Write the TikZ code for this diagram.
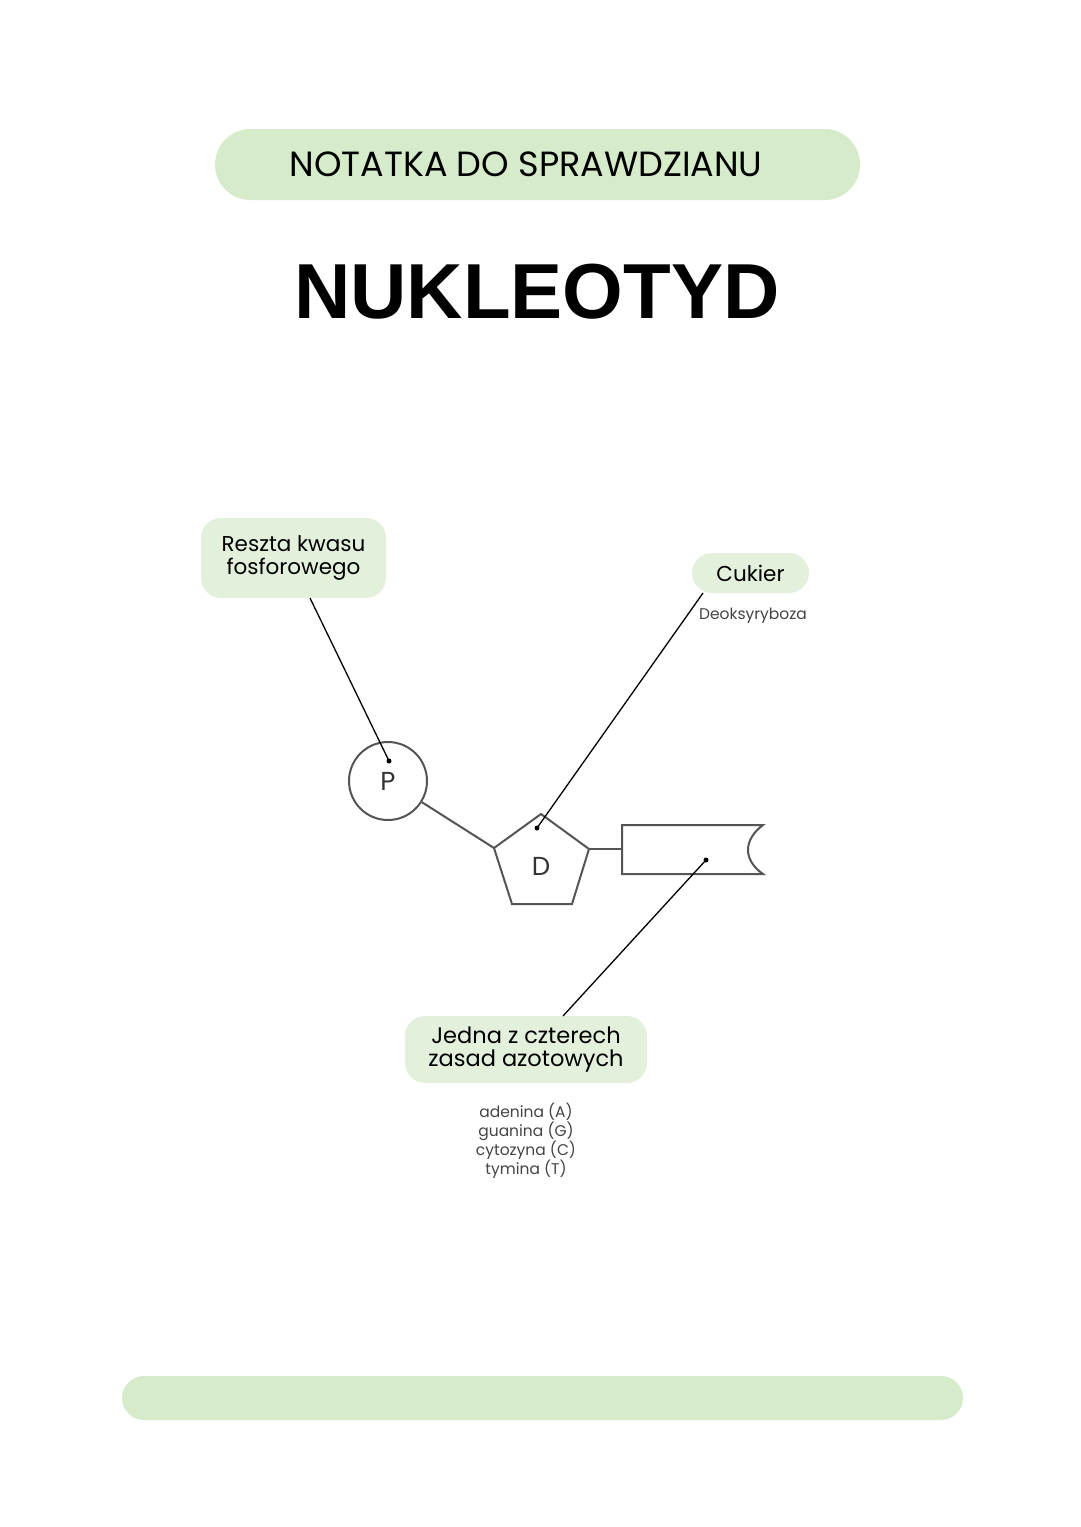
\documentclass[tikz,border=0pt]{standalone}
\usepackage{fontspec}
\setmainfont{Poppins}
\newfontfamily\titlefont{Liberation Sans}
\definecolor{pillgreen}{HTML}{D5EBC9}
\definecolor{boxgreen}{HTML}{E3F0DC}
\definecolor{shapegray}{HTML}{555555}
\definecolor{subgray}{HTML}{444444}
\tikzset{
  pill/.style={fill=pillgreen, draw=none},
  labelbox/.style={fill=boxgreen, draw=none, rounded corners=20pt, align=center, font=\fontsize{21.5}{23}\selectfont, inner sep=0pt},
  shapeline/.style={draw=shapegray, line width=2pt},
  leader/.style={draw=black, line width=1.3pt},
  dotmark/.style={circle, fill=black, inner sep=0pt, minimum size=5pt},
  subtext/.style={text=subgray, align=center, font=\fontsize{15.5}{19}\selectfont},
  glyph/.style={font=\fontsize{26}{28}\selectfont, text=shapegray!60!black},
}
\begin{document}
\begin{tikzpicture}[x=1pt,y=-1pt]
\useasboundingbox (0,0) rectangle (1080,1527);
\fill[white] (0,0) rectangle (1080,1527);
% top pill
\node[pill, rounded corners=35.5pt, minimum width=645pt, minimum height=71pt, inner sep=0pt] (header) at (537.5,164.5) {};
\node[font=\fontsize{35}{40}\selectfont] (headertext) at (526,164) {NOTATKA DO SPRAWDZIANU};
% title
\node[font=\titlefont\bfseries\fontsize{78}{90}\selectfont] (title) at (537,292) {NUKLEOTYD};
% bottom pill
\node[pill, rounded corners=22pt, minimum width=841pt, minimum height=44pt, inner sep=0pt] (footer) at (542.5,1398) {};

% label boxes
\node[labelbox, minimum width=185pt, minimum height=80pt] (reszta) at (293.5,558) {Reszta kwasu\\fosforowego};
\node[labelbox, minimum width=117pt, minimum height=40pt] (cukier) at (750.5,573) {Cukier};
\node[subtext] (deoks) at (753,616) {Deoksyryboza};
\node[labelbox, minimum width=242pt, minimum height=67pt, font=\fontsize{22.5}{23}\selectfont] (jedna) at (526,1049.5) {Jedna z czterech\\zasad azotowych};
\node[subtext] (zasady) at (526,1141) {adenina (A)\\guanina (G)\\cytozyna (C)\\tymina (T)};

% phosphate
\node[circle, shapeline, minimum size=78pt, inner sep=0pt, glyph] (P) at (388,781) {P};
% sugar pentagon
\coordinate (pT) at (541,814);
\coordinate (pL) at (494,848);
\coordinate (pR) at (589,849);
\coordinate (pBL) at (512,904);
\coordinate (pBR) at (572,904);
\draw[shapeline, line join=miter] (pT) -- (pR) -- (pBR) -- (pBL) -- (pL) -- cycle;
\node[glyph] (D) at (541,866) {D};
% base
\coordinate (bTL) at (622,825);
\coordinate (bTR) at (763,825);
\coordinate (bBR) at (763,874);
\coordinate (bBL) at (622,874);
\draw[shapeline] (bTL) -- (bTR) .. controls (743,840) and (743,860) .. (bBR) -- (bBL) -- cycle;
% bonds
\draw[shapeline] (P.-32) -- (pL);
\draw[shapeline] (pR) -- (bTL |- pR);

% dots
\node[dotmark] (dP) at (389,761) {};
\node[dotmark] (dD) at (537,828) {};
\node[dotmark] (dB) at (706,860) {};
% leaders
\coordinate (rEnd) at (310,598);
\coordinate (cEnd) at (703,593);
\coordinate (jEnd) at (563,1016);
\draw[leader] (rEnd) -- (dP.center);
\draw[leader] (cEnd) -- (dD.center);
\draw[leader] (jEnd) -- (dB.center);
\end{tikzpicture}
\end{document}
